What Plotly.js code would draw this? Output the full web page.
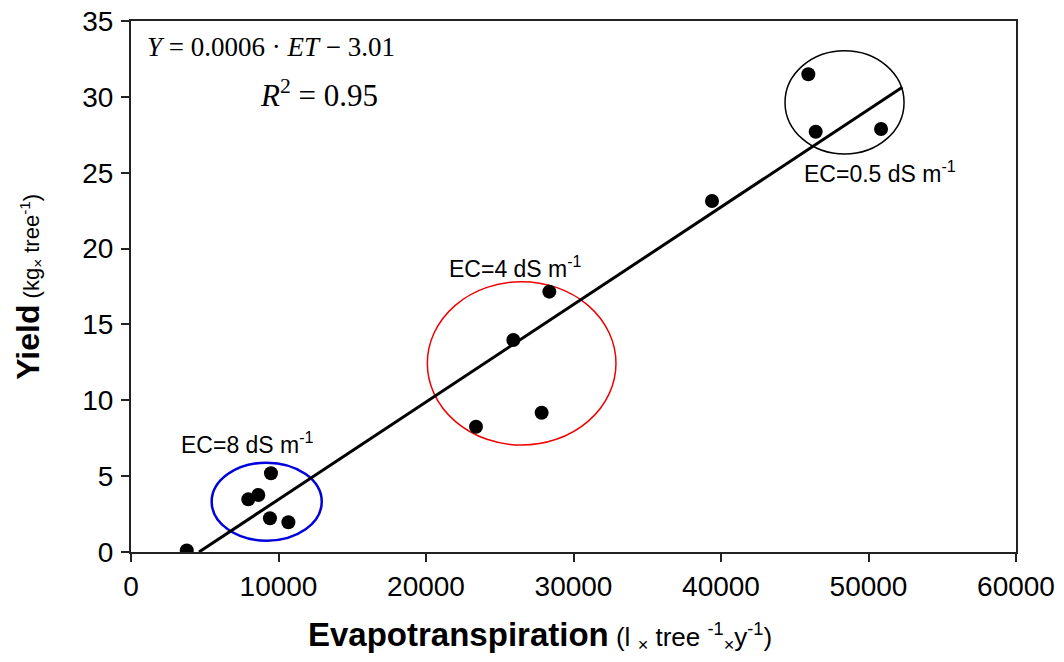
<!DOCTYPE html>
<html>
<head>
<meta charset="utf-8">
<script src="https://cdn.plot.ly/plotly-3.0.1.min.js"></script>
<style>html,body{margin:0;padding:0;background:#fff;}#chart{width:1064px;height:662px;}</style>
</head>
<body>
<div id="chart"></div>
<script>
// Observed data (ET in l tree^-1 y^-1, Yield in kg tree^-1)
const etValues = [3780, 7950, 8630, 9490, 9420, 10670, 23390, 25920, 27840, 28360, 39390, 45920, 46420, 50850];
const yieldValues = [0.1, 3.47, 3.76, 5.19, 2.22, 1.96, 8.26, 13.97, 9.18, 17.16, 23.14, 31.49, 27.70, 27.88];

// Regression line endpoints
const fitX = [4610, 52290];
const fitY = [0, 30.63];

// Group ellipses: [x0, x1, y0, y1]
const groupLabels = ["EC=8 dS m<sup>-1</sup>", "EC=4 dS m<sup>-1</sup>", "EC=0.5 dS m<sup>-1</sup>"];
const groupColors = ["#0000dd", "#ee0000", "#000000"];
const groupX0 = [5470, 20090, 44340];
const groupX1 = [12930, 32880, 52410];
const groupY0 = [0.74, 7.05, 26.23];
const groupY1 = [5.89, 17.82, 33.04];
const labelX = [7870, 26100, 50780];
const labelY = [7.18, 18.78, 25.05];

const xTicks = [0, 10000, 20000, 30000, 40000, 50000, 60000];
const yTicks = [0, 5, 10, 15, 20, 25, 30, 35];

const traces = [
  {x: fitX, y: fitY, mode: 'lines', type: 'scatter', line: {color: '#000', width: 3}, hoverinfo: 'skip', showlegend: false},
  {x: etValues, y: yieldValues, mode: 'markers', type: 'scatter', marker: {color: '#000', size: 14}, showlegend: false}
];

const shapes = groupX0.map((x0, i) => ({
  type: 'circle', xref: 'x', yref: 'y', x0: x0, x1: groupX1[i], y0: groupY0[i], y1: groupY1[i],
  line: {color: groupColors[i], width: i === 0 ? 2.5 : 1.5}, layer: 'below'
}));

const annotations = groupLabels.map((t, i) => ({
  text: t, x: labelX[i], y: labelY[i], xref: 'x', yref: 'y', showarrow: false,
  font: {family: 'Liberation Sans, Arial, sans-serif', size: 23, color: '#000'}
}));
annotations.push({
  text: '<i>Y</i> = 0.0006 · <i>ET</i> − 3.01', xref: 'paper', yref: 'paper', x: 0.016, y: 0.951,
  xanchor: 'left', yanchor: 'middle', showarrow: false,
  font: {family: 'Liberation Serif, Times New Roman, serif', size: 27, color: '#000'}
});
annotations.push({
  text: '<i>R</i><sup>2</sup>&nbsp;=&nbsp;0.95', xref: 'paper', yref: 'paper', x: 0.1435, y: 0.864,
  xanchor: 'left', yanchor: 'middle', showarrow: false,
  font: {family: 'Liberation Serif, Times New Roman, serif', size: 31, color: '#000'}
});
// Axis titles
annotations.push({
  text: '<b>Evapotranspiration</b><span style="font-size:26px"> (l <sub>×</sub> tree <sup>-1</sup><sub>×</sub>y<sup>-1</sup>)</span>',
  xref: 'paper', yref: 'paper', x: 0.1977, y: -0.158, xanchor: 'left', yanchor: 'middle', showarrow: false,
  font: {family: 'Liberation Sans, Arial, sans-serif', size: 33, color: '#000'}
});
annotations.push({
  text: '<b>Yield</b><span style="font-size:22px"> (kg<sub>×</sub> tree<sup>-1</sup>)</span>',
  xref: 'paper', yref: 'paper', x: -0.116, y: 0.5, xanchor: 'center', yanchor: 'middle', showarrow: false,
  textangle: -90,
  font: {family: 'Liberation Sans, Arial, sans-serif', size: 32, color: '#000'}
});

const layout = {
  width: 1064, height: 662,
  margin: {l: 131, r: 48, t: 21, b: 110},
  paper_bgcolor: '#fff', plot_bgcolor: '#fff',
  font: {family: 'Liberation Sans, Arial, sans-serif', color: '#000'},
  xaxis: {
    range: [0, 60000], tickvals: xTicks, ticktext: xTicks.map(String),
    showgrid: false, zeroline: false, showline: true, linecolor: '#222', linewidth: 2, mirror: true,
    ticks: 'outside', ticklen: 8, tickwidth: 2, tickcolor: '#222',
    tickfont: {size: 28, color: '#000'}, ticklabelstandoff: 0
  },
  yaxis: {
    range: [0, 35], tickvals: yTicks, ticktext: yTicks.map(String),
    showgrid: false, zeroline: false, showline: true, linecolor: '#222', linewidth: 2, mirror: true,
    ticks: 'outside', ticklen: 8, tickwidth: 2, tickcolor: '#222',
    tickfont: {size: 28, color: '#000'}, ticklabelstandoff: 2
  },
  shapes: shapes,
  annotations: annotations
};

Plotly.newPlot('chart', traces, layout, {displayModeBar: false, staticPlot: true});
</script>
</body>
</html>
